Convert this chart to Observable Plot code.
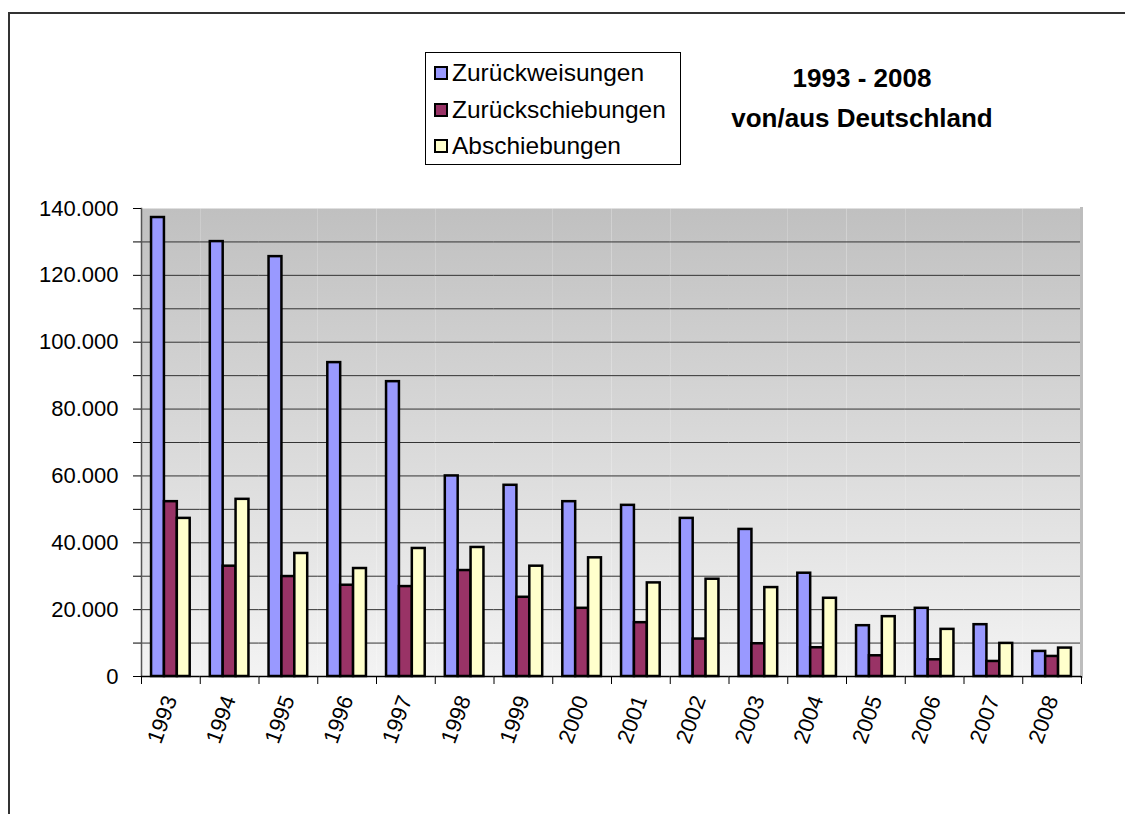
<!DOCTYPE html>
<html>
<head>
<meta charset="utf-8">
<script src="https://cdn.jsdelivr.net/npm/d3@7"></script>
<script src="https://cdn.jsdelivr.net/npm/@observablehq/plot@0.6"></script>
<style>
  html, body { margin: 0; padding: 0; background: #fff; overflow: hidden; }
  #page { position: relative; width: 1125px; height: 814px; overflow: hidden; font-family: "Liberation Sans", Arial, sans-serif; }
  #border { position: absolute; left: 8px; top: 12px; width: 1300px; height: 1000px; border: 2px solid #333; box-sizing: border-box; }
  #chart { position: absolute; left: 0; top: 0; }
  #legend { position: absolute; left: 425px; top: 52px; width: 256px; height: 113px; border: 1px solid #000; box-sizing: border-box; background: #fff; padding: 2px 0 0 8px; }
  .item { height: 36.5px; line-height: 36.5px; font-size: 24.5px; color: #000; white-space: nowrap; display: flex; align-items: center; }
  .sw { width: 14px; height: 14px; border: 2px solid #000; box-sizing: border-box; margin-right: 4px; flex: none; }
  #title { position: absolute; left: 712px; width: 300px; top: 58px; text-align: center; font-weight: bold; font-size: 26px; line-height: 40px; color: #000; }
</style>
</head>
<body>
<div id="page">
  <div id="chart"></div>
  <div id="border"></div>
  <div id="legend"></div>
  <div id="title">1993 - 2008<br>von/aus Deutschland</div>
</div>
<script>
const years = ["1993","1994","1995","1996","1997","1998","1999","2000","2001","2002","2003","2004","2005","2006","2007","2008"];
const seriesNames = ["Zurückweisungen", "Zurückschiebungen", "Abschiebungen"];
const zurueckweisungen = [137300, 130100, 125600, 93900, 88200, 60000, 57200, 52300, 51200, 47300, 44000, 30900, 15200, 20400, 15500, 7500];
const zurueckschiebungen = [52300, 33000, 29900, 27300, 26900, 31700, 23700, 20400, 16100, 11200, 9800, 8600, 6200, 5000, 4500, 6000];
const abschiebungen = [47300, 53000, 36800, 32300, 38300, 38600, 33000, 35500, 28000, 29100, 26600, 23400, 17900, 14100, 9900, 8500];
const colors = ["#9999FF", "#993366", "#FFFFCC"];
const yTicks = d3.range(0, 140001, 10000);

const seriesValues = [zurueckweisungen, zurueckschiebungen, abschiebungen];
const data = years.flatMap((yr, i) => seriesNames.map((s, k) => ({year: yr, series: s, value: seriesValues[k][i]})));

const fmt = d3.formatLocale({decimal: ",", thousands: ".", grouping: [3], currency: ["", "€"]}).format(",");

const W = 1125, H = 814, mL = 141, mR = 44, mT = 208, mB = 138;
const step = (W - mL - mR) / years.length;

const chart = Plot.plot({
  width: W, height: H,
  marginLeft: mL, marginRight: mR, marginTop: mT, marginBottom: mB,
  style: {fontFamily: "Liberation Sans, Arial, sans-serif", background: "none", color: "#000"},
  fx: {domain: years, padding: 0, round: false, label: null},
  x: {domain: seriesNames, paddingInner: 0, paddingOuter: 0.78, round: false, axis: null},
  y: {domain: [0, 140000], label: null},
  color: {domain: seriesNames, range: colors},
  marks: [
    Plot.frame({fill: "url(#bgGrad)", stroke: null}),
    Plot.gridY({ticks: yTicks.filter(v => v > 0 && v < 140000), stroke: "#333", strokeOpacity: 1, strokeWidth: 1}),
    Plot.frame({anchor: "left", facetAnchor: "left", stroke: "#555", strokeWidth: 1.5}),
    Plot.frame({anchor: "right", facetAnchor: "right", stroke: "#bdbdbd", strokeWidth: 3}),
    Plot.barY(data, {fx: "year", x: "series", y: "value", fill: "series", stroke: "#000", strokeWidth: 2.5}),
    Plot.ruleY([0], {stroke: "#000", strokeWidth: 1.5}),
    Plot.axisY({ticks: yTicks, tickSize: 8, tickPadding: 15, fontSize: 22, tickFormat: d => d % 20000 === 0 ? fmt(d) : "", label: null}),
    Plot.axisFx({anchor: "bottom", ticks: years, tickSize: 8, dx: -step / 2, tickFormat: () => "", label: null}),
    Plot.axisFx({anchor: "bottom", ticks: [years[years.length - 1]], tickSize: 8, dx: step / 2, tickFormat: () => "", label: null}),
    Plot.axisFx({anchor: "bottom", ticks: years, tickSize: 0, tickPadding: 20, tickRotate: -70, fontSize: 22, label: null})
  ]
});

const svg = chart.tagName.toLowerCase() === "svg" ? chart : chart.querySelector("svg");
const ns = "http://www.w3.org/2000/svg";
const defs = document.createElementNS(ns, "defs");
const grad = document.createElementNS(ns, "linearGradient");
grad.setAttribute("id", "bgGrad");
grad.setAttribute("x1", "0"); grad.setAttribute("y1", "0");
grad.setAttribute("x2", "0"); grad.setAttribute("y2", "1");
[["0", "#c0c0c0"], ["1", "#f3f3f3"]].forEach(([o, c]) => {
  const st = document.createElementNS(ns, "stop");
  st.setAttribute("offset", o); st.setAttribute("stop-color", c);
  grad.appendChild(st);
});
defs.appendChild(grad);
svg.insertBefore(defs, svg.firstChild);
document.getElementById("chart").appendChild(chart);

const legend = document.getElementById("legend");
seriesNames.forEach((s, k) => {
  const it = document.createElement("div");
  it.className = "item";
  const sw = document.createElement("span");
  sw.className = "sw";
  sw.style.background = colors[k];
  it.appendChild(sw);
  it.appendChild(document.createTextNode(s));
  legend.appendChild(it);
});
</script>
</body>
</html>
